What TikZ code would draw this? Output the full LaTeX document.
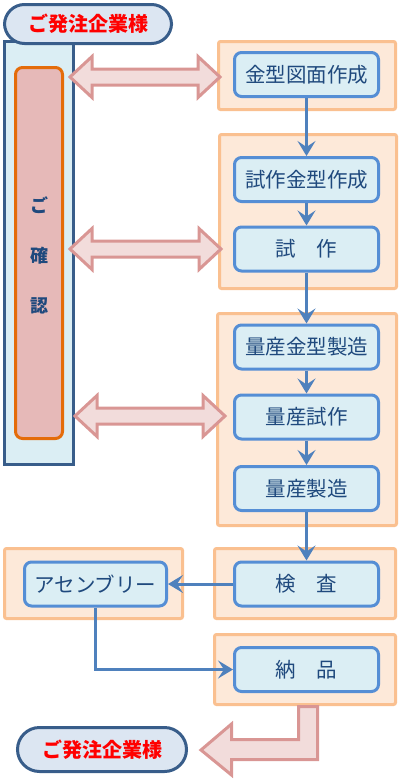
\documentclass[tikz,border=0pt]{standalone}
\usepackage{fontspec}
\newfontfamily\jp{Noto Sans CJK JP}
\usepackage{tikz}
\usetikzlibrary{arrows.meta}
\usetikzlibrary{positioning}
\definecolor{pillfill}{HTML}{DCE6F2}
\definecolor{navy}{HTML}{385D8A}
\definecolor{colfill}{HTML}{DBEEF4}
\definecolor{chkfill}{HTML}{E6B9B8}
\definecolor{chkline}{HTML}{E46C0A}
\definecolor{boxline}{HTML}{558ED5}
\definecolor{boxtext}{HTML}{1F497D}
\definecolor{grpfill}{HTML}{FDE9D9}
\definecolor{grpline}{HTML}{FAC090}
\definecolor{flowline}{HTML}{4F81BD}
\definecolor{bigfill}{HTML}{F2DCDB}
\definecolor{bigline}{HTML}{D99694}
% two-headed arrow: left tip, right tip, height
\newcommand{\talkarrow}[3]{%
    \draw[bigarrow] (#1,#3) -- ({#1+22},{#3-20.5}) -- ({#1+22},{#3-8}) -- ({#2-22},{#3-8})
        -- ({#2-22},{#3-20.5}) -- (#2,#3) -- ({#2-22},{#3+20.5}) -- ({#2-22},{#3+8})
        -- ({#1+22},{#3+8}) -- ({#1+22},{#3+20.5}) -- cycle;}

\begin{document}
\begin{tikzpicture}[x=1pt,y=-1pt]
    \tikzstyle{pill} = [rectangle, rounded corners=20pt, draw=navy, line width=3pt, fill=pillfill, text=red, font=\jp\bfseries\fontsize{20}{20}\selectfont]
    \tikzstyle{grp} = [rectangle, rounded corners=2pt, draw=grpline, line width=3pt, fill=grpfill]
    \tikzstyle{proc} = [rectangle, rounded corners=7pt, draw=boxline, line width=3pt, fill=colfill, text=boxtext, minimum width=144pt, minimum height=44pt, inner sep=0pt, font=\jp\fontsize{20.5}{20.5}\selectfont]
    \tikzstyle{flow} = [draw=flowline, line width=3pt, -{Stealth[length=15pt,width=18pt,inset=6pt]}]
    \tikzstyle{bigarrow} = [draw=bigline, fill=bigfill, line width=3pt, line join=miter]
    \useasboundingbox (0,0) rectangle (401,779);
        %%% customer / check column
        \node[rectangle, draw=navy, line width=3pt, fill=colfill, minimum width=69pt, minimum height=423pt] (column) at (39,253) {};
        \node[rectangle, rounded corners=7pt, draw=chkline, line width=3pt, fill=chkfill, minimum width=47pt, minimum height=371pt] (check) at (39,253) {};
        \node[text=boxtext, align=center, font=\jp\bfseries\fontsize{18}{50}\selectfont] (checktext) at (39,255) {ご\\確\\認};
        \node[pill, minimum width=167pt, minimum height=39pt] (client) at (88,24) {ご発注企業様};
        %%% groups
        \node[grp, minimum width=177pt, minimum height=68pt] (g1) at (307,75.5) {};
        \node[grp, minimum width=177pt, minimum height=154pt] (g2) at (308,211.5) {};
        \node[grp, minimum width=179pt, minimum height=212pt] (g3) at (307,419.5) {};
        \node[grp, minimum width=181pt, minimum height=70pt] (g4) at (305,583.5) {};
        \node[grp, minimum width=178pt, minimum height=70pt] (gasm) at (93.5,583.5) {};
        \node[grp, minimum width=181pt, minimum height=70pt] (g5) at (305,669.5) {};
        %%% process
        \node[proc] (design) at (306.5,74.5) {金型図面作成};
        \node[proc] (trialmold) at (306.5,179.5) {試作金型作成};
        \node[proc] (trial) at (306.5,249) {試　作};
        \node[proc] (massmold) at (306.5,347) {量産金型製造};
        \node[proc] (masstrial) at (306.5,417) {量産試作};
        \node[proc] (massprod) at (306.5,488.5) {量産製造};
        \node[proc] (inspect) at (306.5,584) {検　査};
        \node[proc, minimum width=142pt] (assembly) at (95.5,584) {アセンブリー};
        \node[proc] (deliver) at (306.5,669.5) {納　品};
        %%% flow
        \draw[flow] (design) -- (trialmold);
        \draw[flow] (trialmold) -- (trial);
        \draw[flow] (trial) -- (massmold);
        \draw[flow] (massmold) -- (masstrial);
        \draw[flow] (masstrial) -- (massprod);
        \draw[flow] (massprod) -- (inspect);
        \draw[flow] (inspect) -- (assembly);
        \draw[flow] (assembly.south) |- (deliver.west);
        %%% confirmation arrows
        \talkarrow{70}{220}{77}
        \talkarrow{70}{221}{249}
        \talkarrow{75}{225}{416}
        %%% back to client
        \node[pill, minimum width=169pt, minimum height=44pt, rounded corners=22pt] (client2) at (102,749.5) {ご発注企業様};
        \draw[bigarrow]
            (298.5,706.5) -- (317.5,706.5) -- (317.5,759.5) -- (231.5,759.5) -- (231.5,775)
            -- (201,750) -- (231.5,724) -- (231.5,739.5) -- (298.5,739.5) -- cycle;
    \end{tikzpicture}
\end{document}
